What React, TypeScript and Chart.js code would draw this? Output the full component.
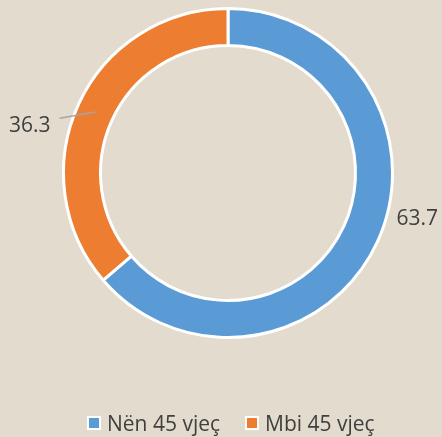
import React, { useEffect, useRef } from "react";
import { Chart, registerables } from "chart.js";

Chart.register(...registerables);

const categories = ["Nën 45 vjeç", "Mbi 45 vjeç"];
const values = [63.7, 36.3];
const valueLabels = ["63.7", "36.3"];
const colors = ["#5B9BD5", "#ED7D31"];

const TEXT = "#404040";
const FONT = "'Open Sans', 'DejaVu Sans', sans-serif";

// label placement relative to doughnut centre, in units of the outer radius
const labelPlugin = {
  id: "outsideLabels",
  afterDatasetsDraw(chart: any) {
    const ctx = chart.ctx;
    const meta = chart.getDatasetMeta(0);
    const layout = [
      { dx: 1.024, dy: 0.315, align: "left", leader: null as null | number[] },
      { dx: -1.079, dy: -0.248, align: "right", leader: [-1.024, -0.333] },
    ];
    meta.data.forEach((arc: any, i: number) => {
      const p = arc.getProps(["x", "y", "outerRadius", "innerRadius", "startAngle", "endAngle"], true);
      const R = p.outerRadius;
      const L = layout[i];
      ctx.save();
      if (L.leader) {
        const mid = (p.startAngle + p.endAngle) / 2;
        const rm = (p.outerRadius + p.innerRadius) / 2;
        ctx.strokeStyle = "#a5a5a5";
        ctx.lineWidth = 1.5;
        ctx.beginPath();
        ctx.moveTo(p.x + L.leader[0] * R, p.y + L.leader[1] * R);
        ctx.lineTo(p.x + Math.cos(mid) * rm, p.y + Math.sin(mid) * rm);
        ctx.stroke();
      }
      ctx.fillStyle = TEXT;
      ctx.font = `21px ${FONT}`;
      ctx.textAlign = L.align;
      ctx.textBaseline = "alphabetic";
      ctx.fillText(valueLabels[i], p.x + L.dx * R, p.y + L.dy * R);
      ctx.restore();
    });
  },
};

export default function App() {
  const ref = useRef<HTMLCanvasElement>(null);
  useEffect(() => {
    if (!ref.current) return;
    const chart = new Chart(ref.current, {
      type: "doughnut",
      data: {
        labels: categories,
        datasets: [
          {
            data: values,
            backgroundColor: colors,
            borderColor: "#ffffff",
            borderWidth: 3,
          },
        ],
      },
      options: {
        animation: false,
        responsive: false,
        cutout: "77.5%",
        layout: { padding: { left: 62, right: 48, top: 7, bottom: 98 } },
        plugins: {
          legend: { display: false },
          tooltip: { enabled: false },
        },
      },
      plugins: [labelPlugin],
    });
    return () => chart.destroy();
  }, []);

  const box = (c: string) => (
    <span
      style={{
        display: "inline-block",
        width: 10,
        height: 10,
        background: c,
        border: "2.5px solid #ffffff",
        marginRight: 6,
      }}
    />
  );

  return (
    <div
      style={{
        position: "fixed",
        left: 0,
        top: 0,
        width: 442,
        height: 437,
        background: "#e3dbce",
        overflow: "hidden",
      }}
    >
      <canvas ref={ref} width={442} height={437} style={{ position: "absolute", left: 0, top: 0 }} />
      <div
        style={{
          position: "absolute",
          left: 87,
          top: 409,
          display: "flex",
          alignItems: "center",
          fontFamily: FONT,
          fontSize: 21,
          lineHeight: "28px",
          color: TEXT,
          whiteSpace: "nowrap",
        }}
      >
        {categories.map((c, i) => (
          <span key={c} style={{ display: "flex", alignItems: "center", marginRight: i === 0 ? 25 : 0 }}>
            {box(colors[i])}
            <span>{c}</span>
          </span>
        ))}
      </div>
    </div>
  );
}
